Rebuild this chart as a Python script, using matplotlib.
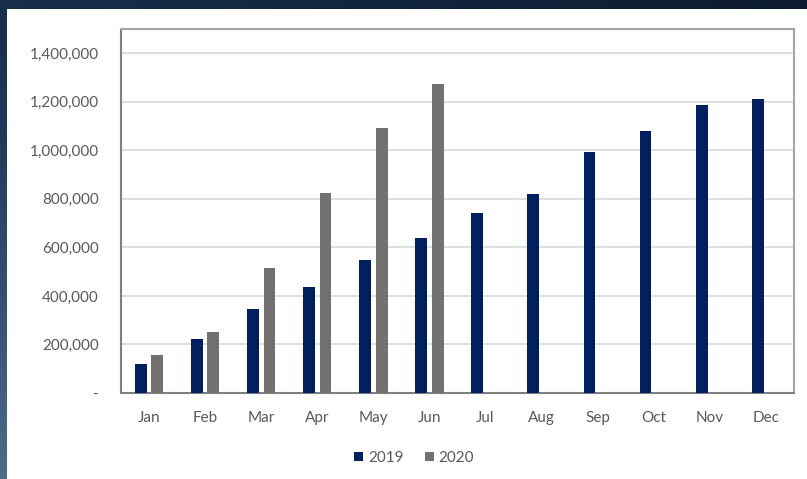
import numpy as np
import matplotlib
matplotlib.use("Agg")
import matplotlib.pyplot as plt
from matplotlib.ticker import FuncFormatter

# Data
months = ["Jan", "Feb", "Mar", "Apr", "May", "Jun",
          "Jul", "Aug", "Sep", "Oct", "Nov", "Dec"]
values_2019 = [120000, 222000, 345000, 438000, 549000, 637000,
               740000, 822000, 995000, 1080000, 1187000, 1213000]
values_2020 = [155000, 252000, 516000, 825000, 1091000, 1275000]
y_ticks = [0, 200000, 400000, 600000, 800000, 1000000, 1200000, 1400000]

navy = "#002060"
grey = "#767171"
text_col = "#595959"

plt.rcParams["font.family"] = ["Lato", "DejaVu Sans"]

fig = plt.figure(figsize=(8.07, 4.79), dpi=100)

# dark blue gradient backdrop, lighter towards the bottom left
bg = fig.add_axes([0, 0, 1, 1], zorder=0)
gx = np.linspace(0, 1, 200)
gy = np.linspace(0, 1, 200)
X, Y = np.meshgrid(gx, gy)
grad = 0.7 * (1 - Y) + 0.3 * (1 - X)
bg.imshow(grad, cmap=matplotlib.colors.LinearSegmentedColormap.from_list(
    "bgc", ["#0c1b30", "#1f3a5c", "#4b6b8d"]), aspect="auto",
    extent=[0, 1, 0, 1], origin="lower")
bg.set_xlim(0, 1)
bg.set_ylim(0, 1)
bg.axis("off")

# white chart panel
panel = fig.add_axes([7 / 807, 0, 1 - 7 / 807, 1 - 9 / 479], zorder=1)
panel.set_facecolor("white")
panel.set_xticks([])
panel.set_yticks([])
for s in panel.spines.values():
    s.set_visible(False)

ax = fig.add_axes([121 / 807, 86 / 479, 673 / 807, 364 / 479], zorder=2)
x = np.arange(len(months))
w = 0.21
off = 0.147
ax.bar(x - off, values_2019, w, color=navy, label="2019", zorder=3)
ax.bar(x[:len(values_2020)] + off, values_2020, w, color=grey, label="2020", zorder=3)

ax.set_xlim(-0.5, len(months) - 0.5)
ax.set_ylim(0, 1500000)
ax.set_yticks(y_ticks)
ax.yaxis.set_major_formatter(FuncFormatter(lambda v, p: "-" if v == 0 else f"{int(v):,}"))
ax.set_xticks(x)
ax.set_xticklabels(months)
ax.tick_params(axis="both", length=0, colors=text_col, labelsize=11)
ax.tick_params(axis="x", pad=13)
ax.tick_params(axis="y", pad=16)
ax.grid(axis="y", color="#d9d9d9", linewidth=1.2, zorder=0)
ax.set_axisbelow(True)

for side in ["top", "right"]:
    ax.spines[side].set_color("#a6a6a6")
    ax.spines[side].set_linewidth(1.5)
for side in ["left", "bottom"]:
    ax.spines[side].set_color("#808080")
    ax.spines[side].set_linewidth(1.5)

leg = fig.legend(loc="center", bbox_to_anchor=(414 / 807, 1 - 458 / 479),
                 ncol=2, frameon=False, fontsize=11, handlelength=0.6,
                 handleheight=0.6, handletextpad=0.3, columnspacing=1.4)
for t in leg.get_texts():
    t.set_color(text_col)

fig.savefig("out.png", dpi=100)
